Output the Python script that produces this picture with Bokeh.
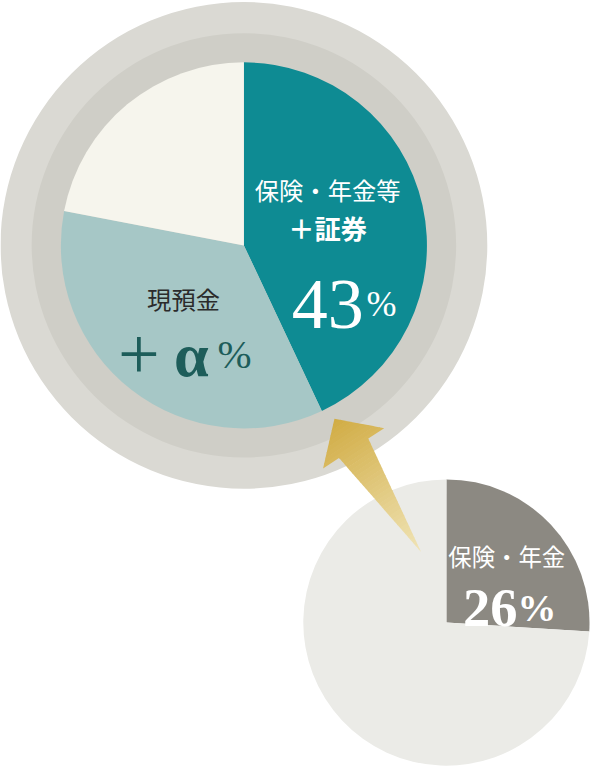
import math
from bokeh.plotting import figure
from bokeh.models import Range1d, ColumnDataSource
from bokeh.embed import file_html
from bokeh.resources import INLINE
from bokeh.core.properties import value

# ---------------- data ----------------
main_labels = ["保険・年金等＋証券", "現預金", "その他"]
main_values = [43, 35, 22]
main_colors = ["#0e8b93", "#a6c7c6", "#f6f5ed"]

sub_labels = ["保険・年金", "その他"]
sub_values = [26, 74]
sub_colors = ["#8c8982", "#ebebe7"]

main_label_line1 = "保険・年金等"
main_label_line2 = "＋証券"
main_pct = "43"
cash_label = "現預金"
cash_plus = "+"
cash_alpha = "α"
sub_label = "保険・年金"
sub_pct = "26"
pct_sign = "%"

# ---------------- layout (design pixel coordinates, y down) ----------------
W, H = 606, 782
M = 8
PW, PH = W - 2 * M, H - 2 * M
S = PW / W  # font scale


def Y(ry):
    return H - ry


def fs(px):
    return "%.1fpx" % (px * S)


big_c = (250, 250)
ring_outer_r, ring_inner_r, pie_r = 250, 218, 188
ring_outer_col, ring_inner_col = "#dad9d3", "#cfcec7"

small_c = (458, 635)
small_r = 147

p = figure(width=PW, height=PH,
           x_range=Range1d(0, W), y_range=Range1d(0, H),
           x_axis_type=None, y_axis_type=None,
           output_backend="svg", toolbar_location=None, min_border=0)
p.grid.visible = False
p.outline_line_color = None
p.background_fill_color = "white"
p.border_fill_color = "white"


def pie_angles(vals):
    tot = float(sum(vals))
    s, e, cum = [], [], 0.0
    for v in vals:
        s.append(math.pi / 2 - 2 * math.pi * cum / tot)
        cum += v
        e.append(math.pi / 2 - 2 * math.pi * cum / tot)
    return s, e


# big rings
p.circle(x=[big_c[0]], y=[Y(big_c[1])], radius=ring_outer_r, fill_color=ring_outer_col, line_color=None)
p.circle(x=[big_c[0]], y=[Y(big_c[1])], radius=ring_inner_r, fill_color=ring_inner_col, line_color=None)

s, e = pie_angles(main_values)
src = ColumnDataSource(dict(x=[big_c[0]] * len(main_values), y=[Y(big_c[1])] * len(main_values),
                            start=s, end=e, color=main_colors, label=main_labels))
p.wedge(x="x", y="y", radius=pie_r, start_angle="start", end_angle="end", direction="clock",
        fill_color="color", line_color=None, source=src)

s2, e2 = pie_angles(sub_values)
src2 = ColumnDataSource(dict(x=[small_c[0]] * len(sub_values), y=[Y(small_c[1])] * len(sub_values),
                             start=s2, end=e2, color=sub_colors, label=sub_labels))
p.wedge(x="x", y="y", radius=small_r, start_angle="start", end_angle="end", direction="clock",
        fill_color="color", line_color=None, source=src2)

# ---------------- arrow with gradient ----------------
tip = (343.0, 427.0)
tail = (432.0, 563.0)
head_len, head_half, shaft_half = 36.0, 37.5, 18.0
L = math.hypot(tail[0] - tip[0], tail[1] - tip[1])
d = ((tail[0] - tip[0]) / L, (tail[1] - tip[1]) / L)
n = (-d[1], d[0])


def pt(t, s_):
    return (tip[0] + d[0] * t + n[0] * s_, tip[1] + d[1] * t + n[1] * s_)


arrow = [pt(0, 0), pt(head_len, -head_half), pt(head_len, -shaft_half), pt(L, 0),
         pt(head_len, shaft_half), pt(head_len, head_half)]


def proj(q):
    return (q[0] - tip[0]) * d[0] + (q[1] - tip[1]) * d[1]


def clip(poly, f):
    out = []
    for i in range(len(poly)):
        a = poly[i]
        b = poly[(i + 1) % len(poly)]
        fa, fb = f(a), f(b)
        if fa >= 0:
            out.append(a)
        if (fa >= 0) != (fb >= 0):
            t = fa / (fa - fb)
            out.append((a[0] + t * (b[0] - a[0]), a[1] + t * (b[1] - a[1])))
    return out


c0 = (209, 172, 68)
c1 = (240, 228, 182)
N = 40
xs, ys, cols = [], [], []
for i in range(N):
    lo, hi = L * i / N, L * (i + 1) / N + 0.6
    poly = clip(arrow, lambda q: proj(q) - lo)
    if len(poly) < 3:
        continue
    poly = clip(poly, lambda q: hi - proj(q))
    if len(poly) < 3:
        continue
    f = (i + 0.5) / N
    col = tuple(int(round(c0[k] + (c1[k] - c0[k]) * f)) for k in range(3))
    xs.append([q[0] for q in poly])
    ys.append([Y(q[1]) for q in poly])
    cols.append("#%02x%02x%02x" % col)
p.patches(xs=xs, ys=ys, fill_color=cols, line_color=None)

# ---------------- texts ----------------
cjk = value("Noto Sans CJK JP")
serif = value("Liberation Serif")

p.text(x=[336], y=[Y(193)], text=[main_label_line1], text_font=cjk, text_font_size=fs(25),
       text_color="white", text_align="center", text_baseline="alphabetic")
p.text(x=[336], y=[Y(232)], text=[main_label_line2], text_font=cjk, text_font_size=fs(27),
       text_font_style="bold", text_color="white", text_align="center", text_baseline="alphabetic")
p.text(x=[373], y=[Y(310)], text=[main_pct], text_font=serif, text_font_size=fs(74),
       text_color="white", text_align="right", text_baseline="alphabetic")
p.text(x=[376], y=[Y(310)], text=[pct_sign], text_font=serif, text_font_size=fs(37),
       text_color="white", text_align="left", text_baseline="alphabetic")

dark_teal = "#1d5d5a"
p.text(x=[188], y=[Y(304)], text=[cash_label], text_font=cjk, text_font_size=fs(25),
       text_color="#2b2b2b", text_align="center", text_baseline="alphabetic")
p.text(x=[142], y=[Y(361)], text=[cash_plus], text_font=serif, text_font_size=fs(76),
       text_color=dark_teal, text_align="center", text_baseline="alphabetic")
p.text(x=[196], y=[Y(361)], text=[cash_alpha], text_font=serif, text_font_size=fs(64),
       text_font_style="bold", text_color=dark_teal, text_align="center", text_baseline="alphabetic")
p.text(x=[223], y=[Y(361)], text=[pct_sign], text_font=serif, text_font_size=fs(42),
       text_color=dark_teal, text_align="left", text_baseline="alphabetic")

p.text(x=[520], y=[Y(567.5)], text=[sub_label], text_font=cjk, text_font_size=fs(24),
       text_color="white", text_align="center", text_baseline="alphabetic")
p.text(x=[531], y=[Y(620)], text=[sub_pct], text_font=serif, text_font_size=fs(56),
       text_font_style="bold", text_color="white", text_align="right", text_baseline="alphabetic")
p.text(x=[531], y=[Y(620)], text=[pct_sign], text_font=serif, text_font_size=fs(40),
       text_font_style="bold", text_color="white", text_align="left", text_baseline="alphabetic")

open("out.html", "w").write(file_html(p, INLINE))
